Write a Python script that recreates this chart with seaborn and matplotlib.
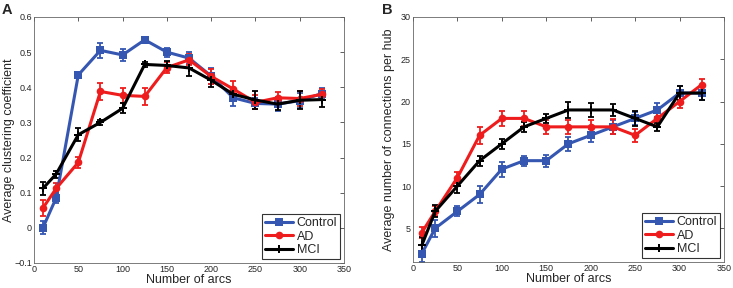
import numpy as np
import pandas as pd
import matplotlib.pyplot as plt
import seaborn as sns

arcs = [10, 25, 50, 75, 100, 125, 150, 175, 200, 225, 250, 275, 300, 325]
groups = ['Control', 'AD', 'MCI']

# panel A: average clustering coefficient
clust_control = [0.0, 0.085, 0.435, 0.505, 0.492, 0.535, 0.50, 0.483, 0.432, 0.37, 0.354, 0.352, 0.362, 0.382]
clust_ad = [0.056, 0.112, 0.186, 0.388, 0.377, 0.374, 0.456, 0.478, 0.431, 0.395, 0.357, 0.37, 0.368, 0.38]
clust_mci = [0.112, 0.153, 0.265, 0.30, 0.34, 0.465, 0.462, 0.455, 0.42, 0.38, 0.364, 0.352, 0.363, 0.365]
clust_err_control = [0.018, 0.014, 0.008, 0.022, 0.018, 0.008, 0.013, 0.018, 0.022, 0.022, 0.016, 0.02, 0.022, 0.016]
clust_err_ad = [0.022, 0.016, 0.016, 0.025, 0.022, 0.024, 0.016, 0.016, 0.022, 0.022, 0.02, 0.016, 0.02, 0.016]
clust_err_mci = [0.018, 0.01, 0.018, 0.008, 0.014, 0.008, 0.012, 0.022, 0.02, 0.015, 0.025, 0.016, 0.025, 0.02]

# panel B: average number of connections per hub
conn_control = [2, 5, 7, 9, 12, 13, 13, 15, 16, 17, 18, 19, 21, 21]
conn_ad = [4.5, 7, 11, 16, 18, 18, 17, 17, 17, 17, 16, 18, 20, 22]
conn_mci = [3, 7, 10, 13, 15, 17, 18, 19, 19, 19, 18, 17, 21, 21]
conn_err_control = [1.0, 1.0, 0.6, 1.0, 0.9, 0.6, 0.7, 0.8, 0.8, 0.8, 0.8, 0.8, 0.8, 0.8]
conn_err_ad = [0.7, 0.6, 0.7, 1.0, 0.9, 0.9, 0.8, 0.8, 0.8, 0.9, 0.8, 0.8, 0.8, 0.7]
conn_err_mci = [1.0, 0.7, 0.8, 0.6, 0.6, 0.6, 0.5, 0.9, 0.8, 0.7, 0.9, 0.5, 0.8, 0.8]

colors = {'Control': '#3557b2', 'AD': '#ee1c1c', 'MCI': '#000000'}
markers = {'Control': 's', 'AD': 'o', 'MCI': 'P'}

sns.set_style('white')
plt.rcParams['font.family'] = ['Liberation Sans', 'DejaVu Sans']


def make_df(vals, errs):
    rows = []
    for g, v, e in zip(groups, vals, errs):
        for x, y, err in zip(arcs, v, e):
            rows.append({'arcs': x, 'value': y, 'err': err, 'group': g})
    return pd.DataFrame(rows)


df_a = make_df([clust_control, clust_ad, clust_mci], [clust_err_control, clust_err_ad, clust_err_mci])
df_b = make_df([conn_control, conn_ad, conn_mci], [conn_err_control, conn_err_ad, conn_err_mci])

fig = plt.figure(figsize=(7.33, 2.88), dpi=100)
ax_a = fig.add_axes([0.0464, 0.087, 0.4229, 0.854])
ax_b = fig.add_axes([0.5634, 0.090, 0.4243, 0.851])


def draw(ax, df, ylim, yticks, ylabels, ylabel, label_x):
    for g in groups:
        d = df[df['group'] == g]
        ax.errorbar(d['arcs'], d['value'], yerr=d['err'], fmt='none', ecolor=colors[g],
                    elinewidth=1.3, capsize=2.2, capthick=1.3, zorder=2)
    sns.lineplot(data=df, x='arcs', y='value', hue='group', style='group',
                 palette=colors, markers=markers, dashes=False, linewidth=2.2,
                 markersize=5.5, markeredgewidth=0, ax=ax, zorder=3)
    ax.set_xlim(0, 350)
    ax.set_ylim(*ylim)
    ax.set_xticks(range(0, 351, 50))
    ax.set_yticks(yticks)
    ax.set_yticklabels(ylabels)
    ax.tick_params(direction='in', top=True, right=True, length=3, width=0.6,
                   labelsize=6.5, pad=1.5, color='#444444')
    for s in ax.spines.values():
        s.set_linewidth(0.6)
        s.set_color('#666666')
    ax.set_xlabel('Number of arcs', fontsize=9, labelpad=0)
    ax.set_ylabel(ylabel, fontsize=9)
    ax.yaxis.set_label_coords(label_x, 0.5)
    leg = ax.legend(loc='lower right', fontsize=9, frameon=True, fancybox=False,
                    borderaxespad=0.3, handlelength=2.3, handletextpad=0.25,
                    labelspacing=0.12, borderpad=0.25, title=None)
    leg.get_frame().set_edgecolor('black')
    leg.get_frame().set_linewidth(0.8)


draw(ax_a, df_a, (-0.1, 0.6), [-0.1, 0, 0.1, 0.2, 0.3, 0.4, 0.5, 0.6],
     ['\u22120.1', '0', '0.1', '0.2', '0.3', '0.4', '0.5', '0.6'],
     'Average clustering coefficient', -0.062)
draw(ax_b, df_b, (1, 30), [5, 10, 15, 20, 25, 30],
     ['5', '10', '15', '20', '25', '30'],
     'Average number of connections per hub', -0.058)

fig.text(2 / 733, 1 - 3 / 288, 'A', fontsize=10.5, fontweight='bold', va='top', ha='left')
fig.text(382 / 733, 1 - 3 / 288, 'B', fontsize=10.5, fontweight='bold', va='top', ha='left')

plt.savefig('out.png', dpi=100)
